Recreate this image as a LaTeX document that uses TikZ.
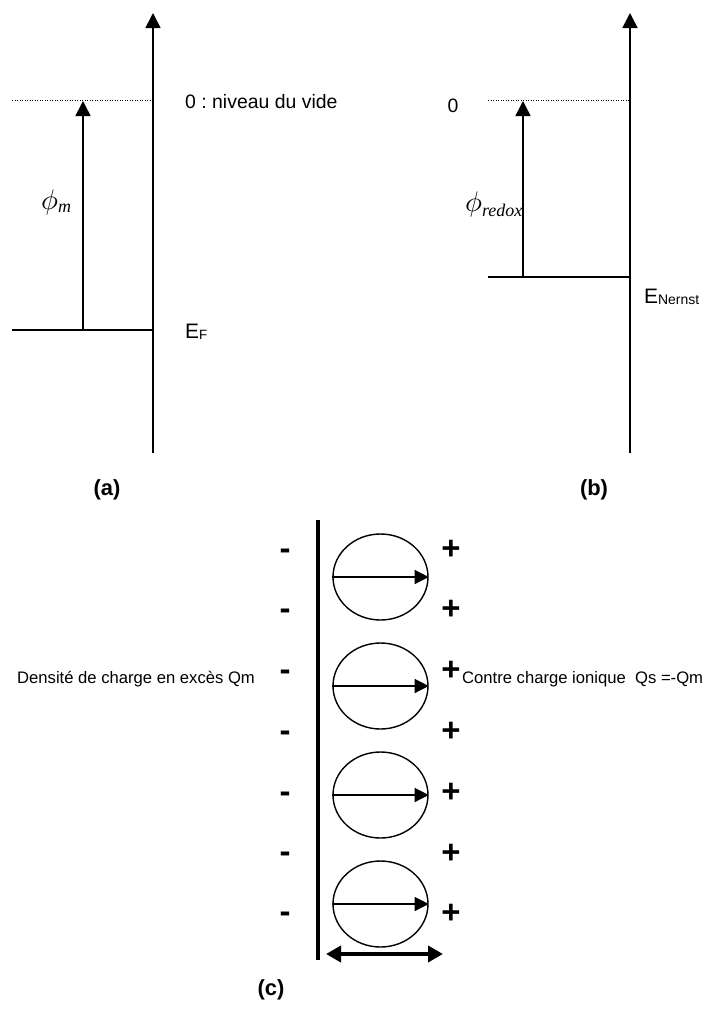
\documentclass[tikz,border=0pt]{standalone}
\usepackage{fontspec}
\setmainfont{Liberation Sans}
\newfontfamily\tmsit{Liberation Serif}[ItalicFont=* Italic]
\usetikzlibrary{arrows.meta,shapes.geometric}
\frenchspacing
\newcommand{\bigphi}{\scalebox{2.85}{$\phi$}}
\newcommand{\phisub}[2]{\raisebox{-#1}{\fontsize{18}{20}\selectfont\tmsit\itshape #2}}
\tikzset{
  axis/.style={line width=1.6bp,-{Triangle[length=15bp,width=15bp]}},
  level/.style={line width=1.6bp},
  vacuum/.style={line width=1bp,dash pattern=on 1bp off 1.5bp},
  gap/.style={line width=1.6bp,-{Triangle[length=15bp,width=15bp]}},
  lbl/.style={inner sep=0pt,font=\fontsize{19.5}{22}\selectfont},
  phil/.style={inner sep=0pt,anchor=base west},
  captxt/.style={inner sep=0pt,font=\fontsize{22}{26}\selectfont\bfseries},
  sgn/.style={inner sep=0pt,anchor=base,font=\fontsize{33}{36}\selectfont\bfseries},
  dlbl/.style={inner sep=0pt,anchor=base west,font=\fontsize{16.7}{19}\selectfont},
  dipole/.style={draw,ellipse,line width=1.4bp,minimum width=95bp,minimum height=86bp,inner sep=0pt},
  dipvec/.style={line width=1.3bp,-{Triangle[length=14bp,width=14bp]}},
  plate/.style={line width=4.5bp},
  spanarrow/.style={line width=4bp,{Triangle[length=15bp,width=16bp]}-{Triangle[length=15bp,width=16bp]}}
}
\begin{document}
\begin{tikzpicture}[x=1bp,y=-1bp]
\useasboundingbox (0,0) rectangle (706,1012);
% ---------- panel (a)
\coordinate (aBot) at (153,453);
\coordinate (aTop) at (153,13);
\coordinate (aVacL) at (12,100);
\coordinate (aVacR) at (153,100);
\coordinate (aFL) at (12,330);
\coordinate (aFR) at (153,330);
\coordinate (aArB) at (83,330);
\coordinate (aArT) at (83,101);
\draw[axis] (aBot) -- (aTop);
\draw[vacuum] (aVacL) -- (aVacR);
\draw[level] (aFL) -- (aFR);
\draw[gap] (aArB) -- (aArT);
\node[lbl,anchor=west] (vide) at (185,102) {0 : niveau du vide};
\node[lbl,anchor=base west,font=\fontsize{21}{24}\selectfont] (EF) at (185,338)
  {E\raisebox{-1bp}{\fontsize{13.5}{14}\selectfont F}};
\node[phil] (phim) at (41,209) {\bigphi\phisub{3bp}{m}};
\node[captxt] (capa) at (107,490) {(a)};
% ---------- panel (b)
\coordinate (bBot) at (630,453);
\coordinate (bTop) at (630,13);
\coordinate (bVacL) at (488,100);
\coordinate (bVacR) at (630,100);
\coordinate (bNL) at (488,277);
\coordinate (bNR) at (630,277);
\coordinate (bArB) at (523,277);
\coordinate (bArT) at (523,101);
\draw[axis] (bBot) -- (bTop);
\draw[vacuum] (bVacL) -- (bVacR);
\draw[level] (bNL) -- (bNR);
\draw[gap] (bArB) -- (bArT);
\node[lbl] (zero) at (453,106) {0};
\node[lbl,anchor=base west,font=\fontsize{21}{24}\selectfont] (EN) at (644,303)
  {E\raisebox{-1.5bp}{\fontsize{14}{15}\selectfont Nernst}};
\node[phil] (phir) at (465,211) {\bigphi\phisub{5bp}{redox}};
\node[captxt] (capb) at (594,490) {(b)};
% ---------- panel (c)
\coordinate (pTop) at (318,520);
\coordinate (pBot) at (318,960);
\draw[plate] (pTop) -- (pBot);
\foreach \i/\y in {1/577,2/686,3/795,4/904}{
  \node[dipole] (d\i) at (380.5,\y) {};
  \draw[dipvec] (d\i.west) -- (d\i.east);
}
\foreach \i/\y in {1/550,2/610,3/671,4/732,5/793,6/853,7/913}{
  \node[sgn] (m\i) at (285,\y+9) {-};
}
\foreach \i/\y in {1/547,2/607,3/668,4/729,5/790,6/851,7/911}{
  \node[sgn] (p\i) at (451,\y+12) {+};
}
\coordinate (wL) at (326,954);
\coordinate (wR) at (443,954);
\draw[spanarrow] (wL) -- (wR);
\node[dlbl] (qm) at (17,683) {Densité de charge en excès Qm};
\node[dlbl] (qs) at (462,683) {Contre charge ionique\ \ Qs =-Qm};
\node[captxt] (capc) at (271,990) {(c)};
\end{tikzpicture}
\end{document}
